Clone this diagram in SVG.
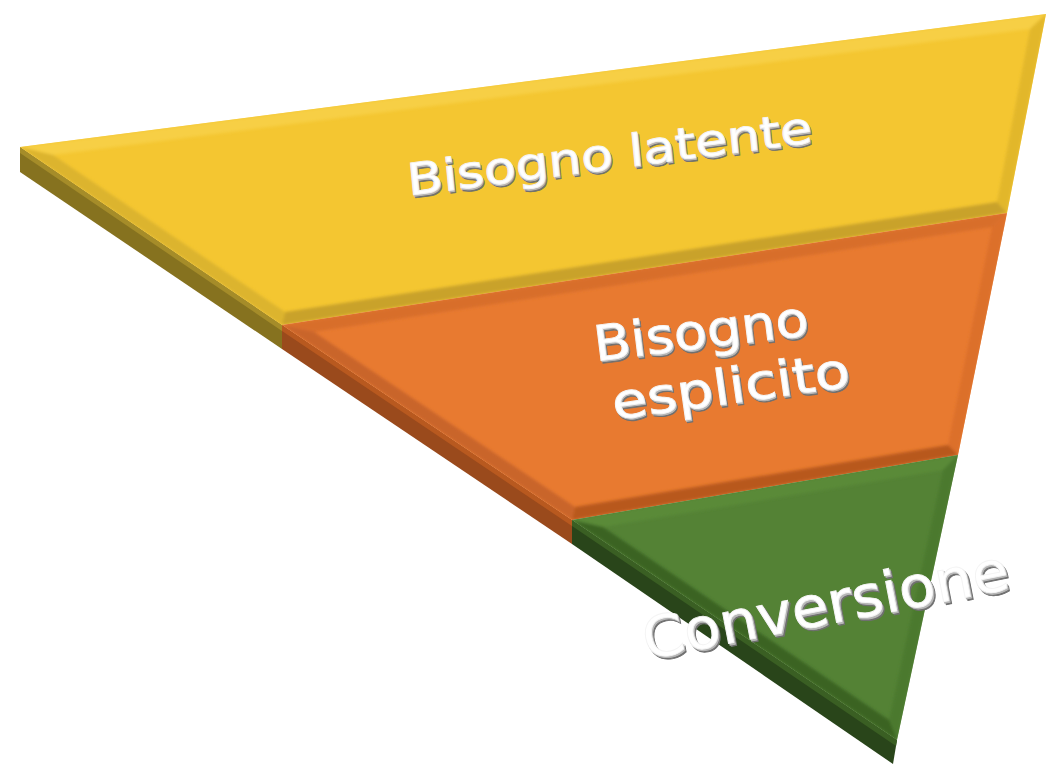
<svg xmlns="http://www.w3.org/2000/svg" width="1048" height="765" viewBox="0 0 1048 765">
  <defs>
    <filter id="soft" x="-5%" y="-5%" width="110%" height="110%">
      <feGaussianBlur stdDeviation="1.8"/>
    </filter>
    <clipPath id="cY"><polygon points="20,147 1046,14 1007,213 282,325"/></clipPath>
    <clipPath id="cO"><polygon points="282,325 1007,213 958,455 572,520"/></clipPath>
    <clipPath id="cG"><polygon points="572,520 958,455 897,740"/></clipPath>
  </defs>
  <style>
    .lbl { font-family: "DejaVu Sans", "Open Sans", sans-serif; text-anchor: middle; }
    .sh1 { fill: #707070; stroke: #707070; stroke-width: 0.9; }
    .sh2 { fill: #b8b8b8; stroke: #b8b8b8; stroke-width: 0.9; }
    .fg { fill: #ffffff; stroke: #f4f4f4; stroke-width: 0.9; }
  </style>
  <rect width="1048" height="765" fill="#ffffff"/>

  <!-- side faces -->
  <g id="sides">
    <polygon points="20,147 282,325 282,349 20,172" fill="#86721f"/>
    <polygon points="20,147 282,325 282,331 20,153" fill="#a58c29"/>
    <polygon points="282,325 572,520 572,544 282,349" fill="#9a4a1c"/>
    <polygon points="282,325 572,520 572,526 282,331" fill="#b8591f"/>
    <polygon points="572,520 897,740 893,764 572,544" fill="#29451a"/>
    <polygon points="572,520 897,740 896,746 572,526" fill="#3a5f23"/>
  </g>

  <!-- yellow segment -->
  <g id="seg-latente">
    <polygon points="20,147 1046,14 1007,213 282,325" fill="#f4c631"/>
    <g clip-path="url(#cY)">
      <g filter="url(#soft)">
        <polygon points="20,147 1046,14 1030,29 53,155" fill="#f7cf44"/>
        <polygon points="1046,14 1007,213 997,202 1030,29" fill="#e2b72c"/>
        <polygon points="1007,213 282,325 285,312 997,202" fill="#c9a229"/>
        <polygon points="282,325 20,147 53,155 285,312" fill="#dcb42f"/>
      </g>
    </g>
    <g class="lbl" font-size="44" transform="translate(611,169) rotate(-7.5) skewX(-2)">
      <text class="sh1" x="1.5" y="3" textLength="408" lengthAdjust="spacingAndGlyphs">Bisogno latente</text>
      <text class="sh2" x="0.7" y="1.5" textLength="408" lengthAdjust="spacingAndGlyphs">Bisogno latente</text>
      <text class="fg" x="0" y="0" textLength="408" lengthAdjust="spacingAndGlyphs">Bisogno latente</text>
    </g>
  </g>

  <!-- orange segment -->
  <g id="seg-esplicito">
    <polygon points="282,325 1007,213 958,455 572,520" fill="#e87a30"/>
    <g clip-path="url(#cO)">
      <g filter="url(#soft)">
        <polygon points="282,325 1007,213 992,227 314,332" fill="#d86e2b"/>
        <polygon points="1007,213 958,455 948,445 992,227" fill="#dc7029"/>
        <polygon points="958,455 572,520 575,507 948,445" fill="#b8591f"/>
        <polygon points="572,520 282,325 314,332 575,507" fill="#c9652a"/>
      </g>
    </g>
    <g class="lbl" font-size="49" transform="translate(703,348) rotate(-7)">
      <text class="sh1" x="1.5" y="3" textLength="216" lengthAdjust="spacingAndGlyphs">Bisogno</text>
      <text class="sh2" x="0.7" y="1.5" textLength="216" lengthAdjust="spacingAndGlyphs">Bisogno</text>
      <text class="fg" x="0" y="0" textLength="216" lengthAdjust="spacingAndGlyphs">Bisogno</text>
    </g>
    <g class="lbl" font-size="49" transform="translate(733,403) rotate(-8)">
      <text class="sh1" x="1.5" y="3" textLength="240" lengthAdjust="spacingAndGlyphs">esplicito</text>
      <text class="sh2" x="0.7" y="1.5" textLength="240" lengthAdjust="spacingAndGlyphs">esplicito</text>
      <text class="fg" x="0" y="0" textLength="240" lengthAdjust="spacingAndGlyphs">esplicito</text>
    </g>
  </g>

  <!-- green segment -->
  <g id="seg-conversione">
    <polygon points="572,520 958,455 897,740" fill="#548235"/>
    <g clip-path="url(#cG)">
      <g filter="url(#soft)">
        <polygon points="572,520 958,455 943,470 603,527" fill="#5a8a39"/>
        <polygon points="958,455 897,740 889,720 943,470" fill="#4b792f"/>
        <polygon points="897,740 572,520 603,527 889,720" fill="#3b6424"/>
      </g>
    </g>
    <g class="lbl" font-size="57" transform="translate(829,624) rotate(-11)">
      <text class="sh1" x="2" y="3.5" textLength="372" lengthAdjust="spacingAndGlyphs">Conversione</text>
      <text class="sh2" x="1" y="1.8" textLength="372" lengthAdjust="spacingAndGlyphs">Conversione</text>
      <text class="fg" x="0" y="0" textLength="372" lengthAdjust="spacingAndGlyphs">Conversione</text>
    </g>
  </g>
</svg>
